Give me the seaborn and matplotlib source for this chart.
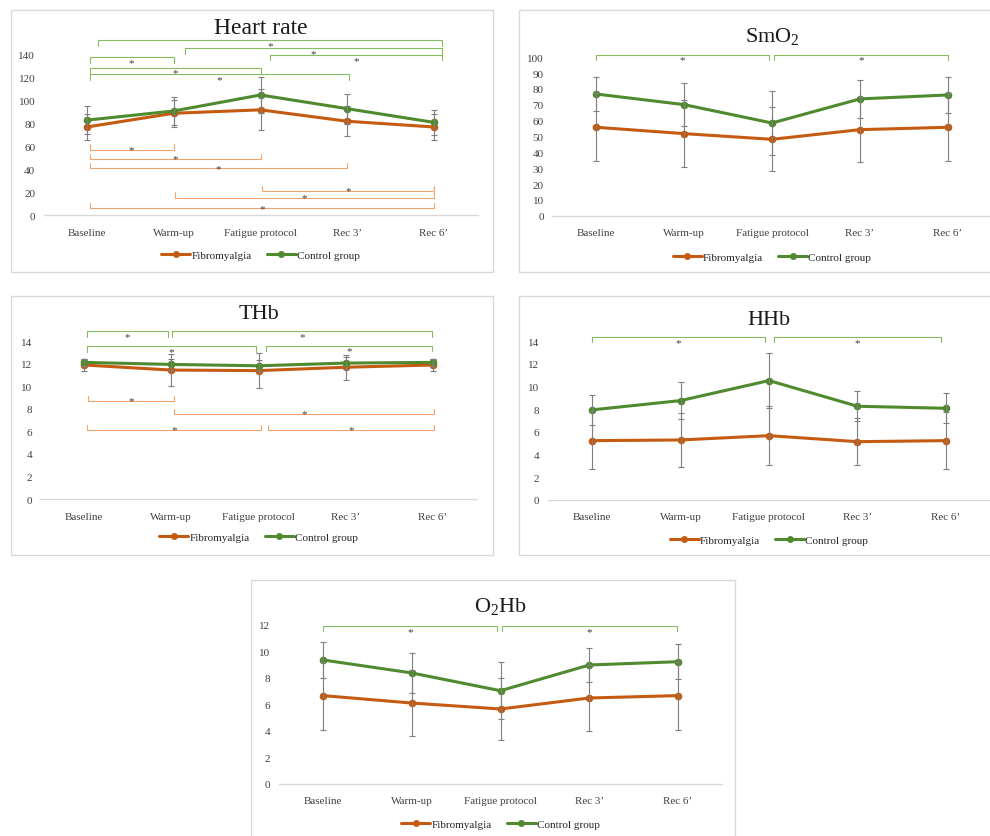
import pandas as pd
import seaborn as sns
import matplotlib.pyplot as plt
from matplotlib.patches import Rectangle

# ---- data ----
stages = ["Baseline", "Warm-up", "Fatigue protocol", "Rec 3\u2019", "Rec 6\u2019"]
groups = ["Fibromyalgia", "Control group"]

hr_fm = [77, 89, 92, 82, 77]
hr_fm_sd = [11, 12, 18, 13, 11]
hr_ctrl = [83, 91, 105, 93, 81]
hr_ctrl_sd = [12, 12, 16, 13, 11]

smo2_fm = [55.8, 51.8, 48.2, 54.3, 55.8]
smo2_fm_sd = [21.5, 21.3, 20.2, 20.6, 21.5]
smo2_ctrl = [76.8, 70.1, 58.5, 73.7, 76.2]
smo2_ctrl_sd = [11.0, 13.5, 20.4, 12.2, 11.2]

thb_fm = [11.9, 11.45, 11.4, 11.7, 11.9]
thb_fm_sd = [0.55, 1.45, 1.55, 1.1, 0.55]
thb_ctrl = [12.13, 11.95, 11.83, 12.07, 12.13]
thb_ctrl_sd = [0.3, 0.5, 0.5, 0.5, 0.3]

hhb_fm = [5.22, 5.28, 5.66, 5.13, 5.22]
hhb_fm_sd = [2.5, 2.36, 2.6, 2.1, 2.54]
hhb_ctrl = [7.94, 8.76, 10.53, 8.26, 8.08]
hhb_ctrl_sd = [1.32, 1.62, 2.42, 1.33, 1.33]

o2hb_fm = [6.67, 6.11, 5.66, 6.49, 6.67]
o2hb_fm_sd = [2.57, 2.46, 2.34, 2.46, 2.57]
o2hb_ctrl = [9.36, 8.38, 7.04, 8.98, 9.23]
o2hb_ctrl_sd = [1.33, 1.48, 2.14, 1.28, 1.34]

# significance brackets: (from stage, to stage, height)
hr_sig_ctrl = [(0.13, 4.09, 153), (1.13, 4.09, 146), (2.11, 4.09, 140),
               (0.03, 1.0, 138), (0.03, 2.0, 129), (0.03, 3.02, 123)]
hr_sig_fm = [(0.03, 1.0, 57), (0.03, 2.0, 49), (0.03, 3.0, 41),
             (2.02, 4.0, 21), (1.01, 4.0, 15), (0.03, 4.0, 6)]
smo2_sig_ctrl = [(0.0, 1.97, 101.5), (2.02, 4.0, 101.5)]
thb_sig_ctrl = [(0.03, 0.96, 14.88), (1.01, 3.99, 14.88),
                (0.03, 1.97, 13.55), (2.09, 3.99, 13.6)]
thb_sig_fm = [(0.05, 1.03, 8.73), (1.03, 4.01, 7.54),
              (0.03, 2.03, 6.15), (2.11, 4.01, 6.15)]
hhb_sig_ctrl = [(0.0, 1.95, 14.37), (2.06, 3.94, 14.37)]
o2hb_sig_ctrl = [(0.0, 1.96, 11.9), (2.02, 3.99, 11.9)]

COLORS = {"Fibromyalgia": "#C55A11", "Control group": "#4F8A2F"}
SIG_COLORS = {"ctrl": "#86BD61", "fm": "#F2A46F"}

W, H = 990, 837


def px_rect(x0, x1, ytop, ybot):
    return [x0 / W, 1 - ybot / H, (x1 - x0) / W, (ybot - ytop) / H]


def tidy(fm, ctrl):
    rows = []
    for i, st in enumerate(stages):
        rows.append({"pos": i, "stage": st, "group": groups[0], "value": fm[i]})
        rows.append({"pos": i, "stage": st, "group": groups[1], "value": ctrl[i]})
    return pd.DataFrame(rows)


def draw_bracket(ax, x0, x1, h, color, above, tick):
    if above:
        ys = [h - tick, h, h, h - tick]
    else:
        ys = [h + tick, h, h, h + tick]
    ax.plot([x0, x0, x1, x1], ys, color=color, lw=0.8, zorder=1)
    if above:
        ax.annotate("*", ((x0 + x1) / 2, h), xytext=(0, -0.5), textcoords="offset points",
                    ha="center", va="top", fontsize=8, color="#404040")
    else:
        ax.annotate("*", ((x0 + x1) / 2, h), xytext=(0, -1.8), textcoords="offset points",
                    ha="center", va="baseline", fontsize=8, color="#404040")


def draw_panel(fig, rect, box, title, title_size, title_pad, fm, fm_sd, ctrl, ctrl_sd,
               ymax, ytick_max, ystep, sig_ctrl, sig_fm, legend_y):
    fig.add_artist(Rectangle((box[0] / W, 1 - box[3] / H), (box[2] - box[0]) / W,
                             (box[3] - box[1]) / H, transform=fig.transFigure,
                             fill=False, edgecolor="#D9D9D9", lw=1.0))
    ax = fig.add_axes(rect)
    df = tidy(fm, ctrl)

    sns.lineplot(data=df, x="pos", y="value", hue="group", hue_order=groups,
                 palette=COLORS, marker="o", markersize=5.5, markeredgewidth=0,
                 linewidth=2.2, ax=ax, zorder=2)

    pos = list(range(len(stages)))
    for vals, sds in [(fm, fm_sd), (ctrl, ctrl_sd)]:
        ax.errorbar(pos, vals, yerr=sds, fmt="none", ecolor="#7F7F7F",
                    elinewidth=0.8, capsize=2.0, capthick=0.8, zorder=3)

    tick = 0.03 * ymax
    for x0, x1, h in sig_ctrl:
        draw_bracket(ax, x0, x1, h, SIG_COLORS["ctrl"], True, tick)
    for x0, x1, h in sig_fm:
        draw_bracket(ax, x0, x1, h, SIG_COLORS["fm"], False, tick)

    ax.set_xlim(-0.5, len(stages) - 0.5)
    ax.set_ylim(0, ymax)
    ax.set_xticks(pos)
    ax.set_xticklabels(stages)
    yt = list(range(0, ytick_max + 1, ystep))
    ax.set_yticks(yt)
    ax.set_yticklabels([str(v) for v in yt])
    ax.set_xlabel("")
    ax.set_ylabel("")

    for side in ["left", "top", "right"]:
        ax.spines[side].set_visible(False)
    ax.spines["bottom"].set_color("#D9D9D9")
    ax.spines["bottom"].set_linewidth(1.0)
    ax.tick_params(axis="both", length=0, colors="#404040", labelsize=8)
    ax.tick_params(axis="x", pad=9)
    ax.tick_params(axis="y", pad=6)

    ax.set_title(title, fontsize=title_size, pad=title_pad, color="#1a1a1a")

    handles, labels = ax.get_legend_handles_labels()
    for hd in handles:
        hd.set_marker("o")
        hd.set_markersize(5)
        hd.set_markeredgewidth(0)
    ax.legend(handles, labels, loc="center", bbox_to_anchor=(0.5, legend_y),
              ncol=2, frameon=False, handlelength=2.6, handletextpad=0.1,
              columnspacing=1.4, fontsize=8)
    return ax


sns.set_style("white")
plt.rcParams["font.family"] = ["Liberation Serif", "DejaVu Serif"]
plt.rcParams["mathtext.fontset"] = "custom"
plt.rcParams["mathtext.rm"] = "Liberation Serif"
plt.rcParams["mathtext.it"] = "Liberation Serif:italic"

fig = plt.figure(figsize=(9.9, 8.37), dpi=100)

draw_panel(fig, px_rect(43.5, 477.5, 35.4, 216), (11, 11, 493, 273), "Heart rate", 17, 1,
           hr_fm, hr_fm_sd, hr_ctrl, hr_ctrl_sd, 158, 140, 20,
           hr_sig_ctrl, hr_sig_fm, -0.22)
draw_panel(fig, px_rect(552, 992, 51.9, 216.7), (519, 11, 995, 273), r"SmO$_\mathrm{2}$", 16, 7,
           smo2_fm, smo2_fm_sd, smo2_ctrl, smo2_ctrl_sd, 104, 100, 10,
           smo2_sig_ctrl, [], -0.25)
draw_panel(fig, px_rect(40.4, 476.6, 327.7, 500), (11, 297, 493, 556), "THb", 16, 6,
           thb_fm, thb_fm_sd, thb_ctrl, thb_ctrl_sd, 15.3, 14, 2,
           thb_sig_ctrl, thb_sig_fm, -0.22)
draw_panel(fig, px_rect(547.8, 990.2, 334.4, 500.7), (519, 297, 995, 556), "HHb", 16, 7,
           hhb_fm, hhb_fm_sd, hhb_ctrl, hhb_ctrl_sd, 14.7, 14, 2,
           hhb_sig_ctrl, [], -0.24)
draw_panel(fig, px_rect(278.6, 722.4, 622, 785), (251, 581, 735, 842), r"O$_\mathrm{2}$Hb", 16, 7,
           o2hb_fm, o2hb_fm_sd, o2hb_ctrl, o2hb_ctrl_sd, 12.3, 12, 2,
           o2hb_sig_ctrl, [], -0.245)

fig.savefig("out.png", dpi=100)
